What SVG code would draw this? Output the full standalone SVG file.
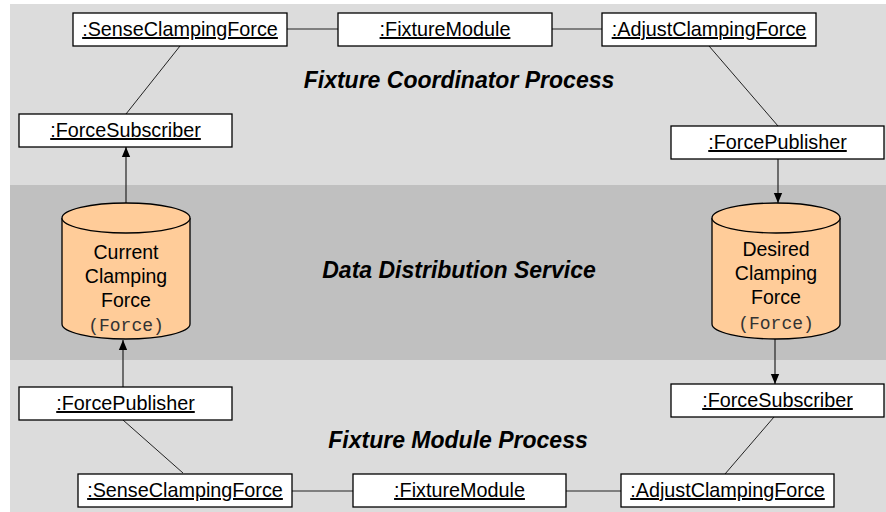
<svg xmlns="http://www.w3.org/2000/svg" width="886" height="512" viewBox="0 0 886 512">
<style>
.box{fill:#fff;stroke:#000;stroke-width:1.3}
.lbl{font-family:"Liberation Sans",Arial,sans-serif;font-size:19.8px;text-anchor:middle;text-decoration:underline;fill:#000}
.title{font-family:"Liberation Sans",Arial,sans-serif;font-size:23px;font-weight:bold;font-style:italic;text-anchor:middle;fill:#000}
.cyl{fill:#ffcc99;stroke:#000;stroke-width:1.3}
.ct{font-family:"Liberation Sans",Arial,sans-serif;font-size:19.5px;text-anchor:middle;fill:#000}
.mono{font-family:"Liberation Mono","Courier New",monospace;font-size:18px;text-anchor:middle;fill:#333}
.ln{stroke:#222;stroke-width:1;fill:none}
.arr{stroke:#222;stroke-width:1.2;fill:none;marker-end:url(#ah)}
</style>
<defs>
<marker id="ah" markerWidth="10" markerHeight="12" refX="12" refY="5" viewBox="0 0 12 10" orient="auto" markerUnits="userSpaceOnUse">
<path d="M0,0 L12,5 L0,10 Z" fill="#000"/>
</marker>
</defs>
<rect x="10" y="4" width="876" height="508" fill="#dcdcdc"/>
<rect x="10" y="185" width="876" height="175" fill="#c0c0c0"/>
<text class="title" x="459" y="88">Fixture Coordinator Process</text>
<text class="title" x="459" y="278">Data Distribution Service</text>
<text class="title" x="458" y="448">Fixture Module Process</text>
<g id="connectors">
<line class="ln" x1="287" y1="29" x2="338" y2="29"/>
<line class="ln" x1="552" y1="29" x2="602" y2="29"/>
<line class="ln" x1="180" y1="46" x2="126" y2="114"/>
<line class="ln" x1="709" y1="46" x2="778" y2="126"/>
<line class="arr" x1="126" y1="203" x2="126" y2="147"/>
<line class="arr" x1="778" y1="159" x2="778" y2="203"/>
<line class="arr" x1="123" y1="387" x2="123" y2="340"/>
<line class="arr" x1="775" y1="339" x2="775" y2="384"/>
<line class="ln" x1="123" y1="420" x2="183" y2="473"/>
<line class="ln" x1="774" y1="417" x2="725" y2="474"/>
<line class="ln" x1="292" y1="491" x2="353" y2="491"/>
<line class="ln" x1="566" y1="491" x2="621" y2="491"/>
</g>
<g id="senseTop"><rect class="box" x="73" y="13" width="214" height="33"/><text class="lbl" x="180" y="36">:SenseClampingForce</text></g>
<g id="fixtureTop"><rect class="box" x="338" y="13" width="214" height="33"/><text class="lbl" x="445" y="36">:FixtureModule</text></g>
<g id="adjustTop"><rect class="box" x="602" y="13" width="214" height="33"/><text class="lbl" x="709" y="36">:AdjustClampingForce</text></g>
<g id="subTop"><rect class="box" x="19" y="114" width="213" height="33"/><text class="lbl" x="125.5" y="137">:ForceSubscriber</text></g>
<g id="pubTop"><rect class="box" x="671" y="126" width="213" height="33"/><text class="lbl" x="777.5" y="149">:ForcePublisher</text></g>
<g id="currentCyl">
<path class="cyl" d="M62,218 L62,324 A64,15 0 0 0 190,324 L190,218"/>
<ellipse class="cyl" cx="126" cy="218" rx="64" ry="15"/>
<text class="ct" x="126" y="259">Current</text>
<text class="ct" x="126" y="283">Clamping</text>
<text class="ct" x="126" y="307">Force</text>
<text class="mono" x="126" y="331">(Force)</text>
</g>
<g id="desiredCyl">
<path class="cyl" d="M712,218 L712,324 A64,15 0 0 0 840,324 L840,218"/>
<ellipse class="cyl" cx="776" cy="218" rx="64" ry="15"/>
<text class="ct" x="776" y="256">Desired</text>
<text class="ct" x="776" y="280">Clamping</text>
<text class="ct" x="776" y="304">Force</text>
<text class="mono" x="776" y="329">(Force)</text>
</g>
<g id="pubBottom"><rect class="box" x="19" y="387" width="213" height="33"/><text class="lbl" x="125.5" y="410">:ForcePublisher</text></g>
<g id="subBottom"><rect class="box" x="671" y="384" width="213" height="33"/><text class="lbl" x="777.5" y="407">:ForceSubscriber</text></g>
<g id="senseBottom"><rect class="box" x="78" y="474" width="214" height="33"/><text class="lbl" x="185" y="497">:SenseClampingForce</text></g>
<g id="fixtureBottom"><rect class="box" x="353" y="474" width="213" height="33"/><text class="lbl" x="459.5" y="497">:FixtureModule</text></g>
<g id="adjustBottom"><rect class="box" x="621" y="474" width="213" height="33"/><text class="lbl" x="727.5" y="497">:AdjustClampingForce</text></g>
</svg>
